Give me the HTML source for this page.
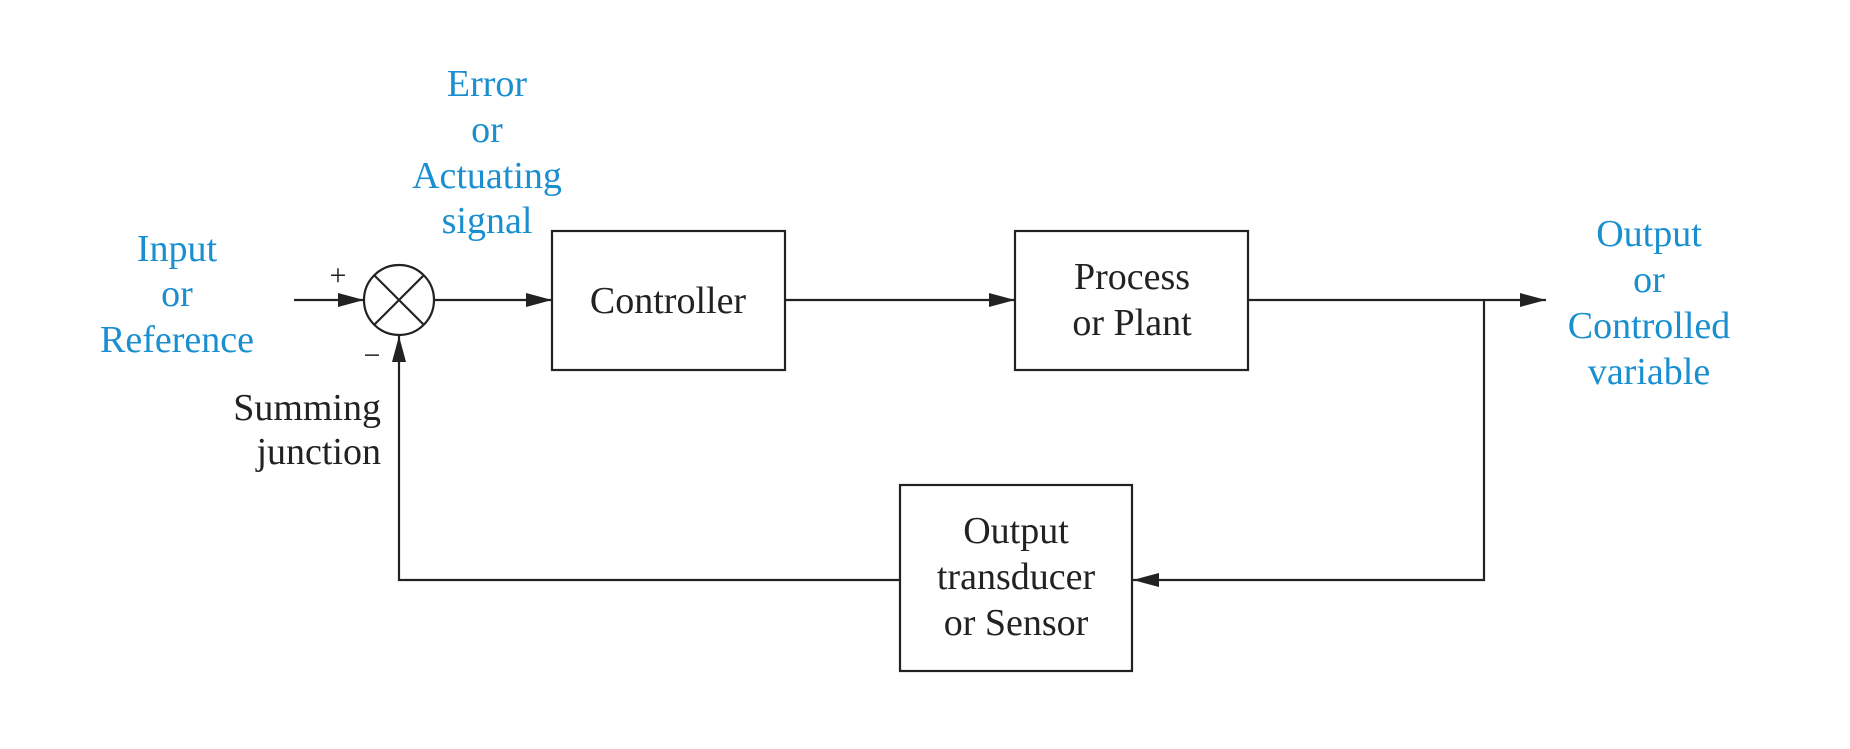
<!DOCTYPE html>
<html><head><style>html,body{margin:0;padding:0;background:#fff;}</style></head>
<body>
<svg width="1850" height="744" xmlns="http://www.w3.org/2000/svg" font-family="Liberation Serif, serif" font-size="38">
<defs>
<marker id="a" markerWidth="26" markerHeight="14" refX="26" refY="7" orient="auto" markerUnits="userSpaceOnUse">
<path d="M0,0 L26,7 L0,14 Z" fill="#222"/></marker>
</defs>
<g stroke="#222" stroke-width="2.2" fill="none">
<rect x="552" y="231" width="233" height="139" fill="#fff"/>
<rect x="1015" y="231" width="233" height="139" fill="#fff"/>
<rect x="900" y="485" width="232" height="186" fill="#fff"/>
<circle cx="399" cy="300" r="35"/>
<line x1="374" y1="275" x2="424" y2="325"/>
<line x1="424" y1="275" x2="374" y2="325"/>
<line x1="294" y1="300" x2="364" y2="300" marker-end="url(#a)"/>
<line x1="434" y1="300" x2="552" y2="300" marker-end="url(#a)"/>
<line x1="785" y1="300" x2="1015" y2="300" marker-end="url(#a)"/>
<line x1="1248" y1="300" x2="1546" y2="300" marker-end="url(#a)"/>
<polyline points="1484,300 1484,580 1133,580" marker-end="url(#a)"/>
<polyline points="900,580 399,580 399,336" marker-end="url(#a)"/>
</g>
<g fill="#222" text-anchor="middle">
<text x="338" y="285" font-size="30">+</text>
<text x="372" y="365" font-size="30">−</text>
<text x="668" y="313">Controller</text>
<text x="1132" y="289">Process</text>
<text x="1132" y="335">or Plant</text>
<text x="1016" y="543">Output</text>
<text x="1016" y="589">transducer</text>
<text x="1016" y="635">or Sensor</text>
<text x="381" y="420" text-anchor="end">Summing</text>
<text x="381" y="464" text-anchor="end">junction</text>
</g>
<g fill="#1a8fd0" text-anchor="middle">
<text x="487" y="96">Error</text>
<text x="487" y="142">or</text>
<text x="487" y="188">Actuating</text>
<text x="487" y="233">signal</text>
<text x="177" y="261">Input</text>
<text x="177" y="306">or</text>
<text x="177" y="352">Reference</text>
<text x="1649" y="246">Output</text>
<text x="1649" y="292">or</text>
<text x="1649" y="338">Controlled</text>
<text x="1649" y="384">variable</text>
</g>
</svg>
</body></html>
